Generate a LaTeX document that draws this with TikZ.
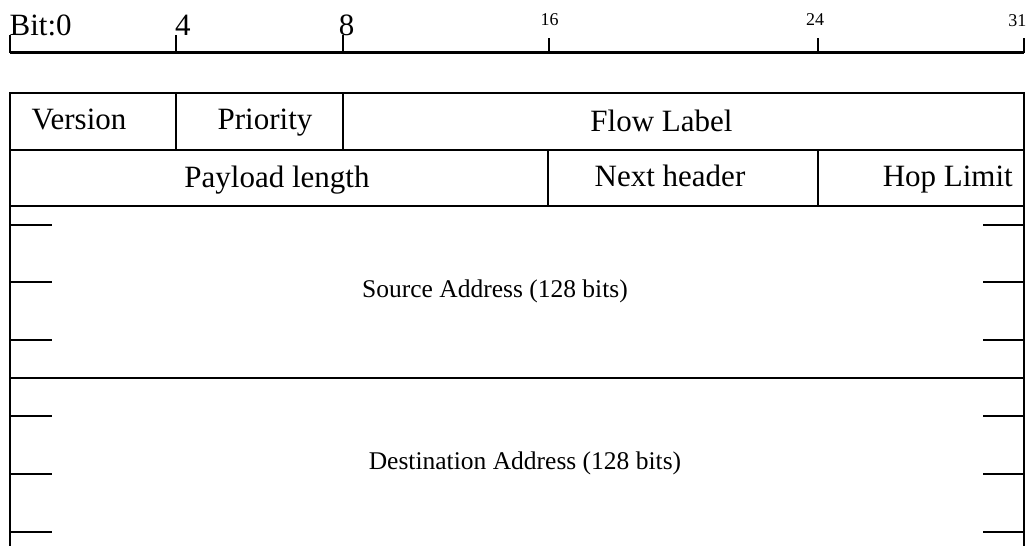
\documentclass[tikz,border=0pt]{standalone}
\usepackage{fontspec}
\setmainfont{Liberation Serif}
\begin{document}
\begin{tikzpicture}[x=1pt,y=-1pt,
  rulerline/.style={line width=3pt},
  ruletick/.style={line width=1.8pt},
  frame/.style={line width=2.4pt},
  cellline/.style={line width=2pt},
  marktick/.style={line width=2.4pt},
  biglabel/.style={font=\fontsize{31}{31}\selectfont, inner sep=0pt, anchor=base},
  smalllabel/.style={font=\fontsize{18}{18}\selectfont, inner sep=0pt, anchor=base},
  addrlabel/.style={font=\fontsize{25.5}{26}\selectfont, inner sep=0pt, anchor=base}]
\useasboundingbox (0,0) rectangle (1029,546);

% bit ruler
\coordinate (r0) at (10,52.5);
\coordinate (r31) at (1024,52.5);
\draw[rulerline] (r0) -- (r31);
\foreach \x/\top in {10/35,176/35,343/35,549/38,818/38,1024/38}
  \draw[ruletick] (\x,\top) -- (\x,52.5);
\node[biglabel, anchor=base west] (bit0) at (9.5,35) {Bit:0};
\node[biglabel, anchor=base west] (bit4) at (175,35) {4};
\node[biglabel] (bit8) at (346.5,35) {8};
\node[smalllabel] (bit16) at (549.5,25) {16};
\node[smalllabel] (bit24) at (815,25) {24};
\node[smalllabel, anchor=base east] (bit31) at (1026.5,27) {31};

% header frame (open at the bottom)
\draw[frame] (10,546) -- (10,93) -- (1024,93) -- (1024,546);
\draw[cellline] (10,149.5) -- (1024,149.5);
\draw[cellline] (10,206) -- (1024,206);
\draw[cellline] (10,378) -- (1024,378);
\draw[cellline] (176,93) -- (176,149.5);
\draw[cellline] (343,93) -- (343,149.5);
\draw[cellline] (548,149.5) -- (548,206);
\draw[cellline] (818,149.5) -- (818,206);

% word marks on both address blocks
\foreach \y in {225,282,340,416,474,532} {
  \draw[marktick] (10,\y) -- (52,\y);
  \draw[marktick] (983,\y) -- (1024,\y);
}

% field names
\node[biglabel] (version) at (79,129) {Version};
\node[biglabel] (priority) at (265,129) {Priority};
\node[biglabel] (flow) at (661.5,131) {Flow Label};
\node[biglabel] (payload) at (277,187) {Payload length};
\node[biglabel] (next) at (670,186) {Next header};
\node[biglabel, anchor=base east] (hop) at (1013,186) {Hop Limit};
\node[addrlabel] (src) at (495,297) {Source Address (128 bits)};
\node[addrlabel] (dst) at (525,469) {Destination Address (128 bits)};
\end{tikzpicture}
\end{document}
